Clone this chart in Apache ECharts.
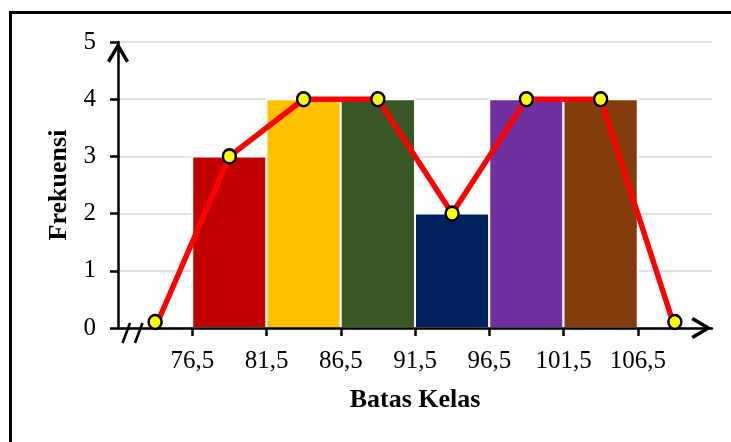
<!DOCTYPE html>
<html>
<head>
<meta charset="utf-8">
<script src="https://cdn.jsdelivr.net/npm/echarts@6/dist/echarts.min.js"></script>
<style>
  html, body { margin: 0; padding: 0; background: #ffffff; }
  #chart { width: 731px; height: 442px; }
</style>
</head>
<body>
<div id="chart"></div>
<script>
// Class boundaries and frequency of each class (histogram)
const classLower = [76.5, 81.5, 86.5, 91.5, 96.5, 101.5];
const classUpper = [81.5, 86.5, 91.5, 96.5, 101.5, 106.5];
const frequencies = [3, 4, 4, 2, 4, 4];

// Frequency polygon: class midpoints, with an empty class on each side
const midpoints = [74, 79, 84, 89, 94, 99, 104, 109];
const polygonFreq = [0, 3, 4, 4, 2, 4, 4, 0];

// Labelled positions on the horizontal axis
const boundaryTicks = [76.5, 81.5, 86.5, 91.5, 96.5, 101.5, 106.5];

const barColors = ['#C00000', '#FFC000', '#3A5726', '#002060', '#7030A0', '#843C0C'];
const serif = "'Liberation Serif', 'Times New Roman', serif";
// Open chevron used as the arrow head at the end of both axes
const chevron = 'path://M10.5,0 L21,17.6 L18.2,19.4 L10.5,6.4 L2.8,19.4 L0,17.6 Z';

const X_MIN = 71.5, X_MAX = 111.5;

const chart = echarts.init(document.getElementById('chart'), null, { renderer: 'canvas' });

chart.setOption({
  animation: false,
  backgroundColor: '#ffffff',
  grid: { left: 118, right: 19, top: 42, bottom: 114, containLabel: false },
  xAxis: {
    type: 'value',
    min: X_MIN,
    max: X_MAX,
    z: 4,
    name: 'Batas Kelas',
    nameLocation: 'middle',
    nameGap: 59,
    nameTextStyle: { fontFamily: serif, fontSize: 26, fontWeight: 'bold', color: '#000' },
    axisLine: {
      show: true,
      onZero: false,
      lineStyle: { color: '#000', width: 2.5 },
      symbol: ['none', chevron],
      symbolSize: [22, 21],
      symbolOffset: [0, -10.5]
    },
    axisTick: {
      show: true,
      customValues: boundaryTicks,
      length: 8,
      lineStyle: { color: '#000', width: 2.5 }
    },
    axisLabel: {
      customValues: boundaryTicks,
      margin: 21,
      fontFamily: serif,
      fontSize: 25,
      color: '#000',
      formatter: v => String(v).replace('.', ',')
    },
    splitLine: { show: false }
  },
  yAxis: {
    type: 'value',
    min: 0,
    max: 5,
    interval: 1,
    z: 0,
    name: 'Frekuensi',
    nameLocation: 'middle',
    nameGap: 43,
    nameTextStyle: { fontFamily: serif, fontSize: 26, fontWeight: 'bold', color: '#000' },
    axisLine: {
      show: true,
      lineStyle: { color: '#000', width: 2.5 },
      symbol: ['none', chevron],
      symbolSize: [22, 21],
      symbolOffset: [0, -10.5]
    },
    axisTick: { show: true, length: 8, lineStyle: { color: '#000', width: 2.5 } },
    axisLabel: { margin: 22, fontFamily: serif, fontSize: 25, color: '#000' },
    splitLine: { show: true, lineStyle: { color: '#d9d9d9', width: 1.5 } }
  },
  series: [
    {
      name: 'Histogram',
      type: 'custom',
      z: 2,
      data: frequencies.map((f, i) => [classLower[i], classUpper[i], f]),
      encode: { x: [0, 1], y: 2 },
      renderItem: function (params, api) {
        const base = api.coord([api.value(0), 0]);
        const top = api.coord([api.value(1), api.value(2)]);
        return {
          type: 'rect',
          shape: { x: base[0], y: top[1], width: top[0] - base[0], height: base[1] - top[1] },
          style: { fill: barColors[params.dataIndex], stroke: '#ffffff', lineWidth: 2 }
        };
      }
    },
    {
      name: 'Poligon',
      type: 'line',
      z: 6,
      data: midpoints.map((x, i) => {
        const item = { value: [x, polygonFreq[i]] };
        // the empty end classes sit their markers on top of the axis line
        if (polygonFreq[i] === 0) item.symbolOffset = [0, -6];
        return item;
      }),
      lineStyle: { color: '#FF0000', width: 5.5 },
      symbol: 'circle',
      symbolSize: [13, 14],
      itemStyle: { color: '#FFFF00', borderColor: '#000', borderWidth: 2.5 }
    }
  ]
});

// Outer frame and the axis-break marks "//" just right of the origin
const origin = chart.convertToPixel({ gridIndex: 0 }, [X_MIN, 0]);
const slash = (id, dx) => ({
  id: id,
  type: 'line',
  z: 20,
  silent: true,
  shape: { x1: origin[0] + dx + 4.5, y1: origin[1] + 15, x2: origin[0] + dx + 12, y2: origin[1] - 5 },
  style: { stroke: '#000', lineWidth: 2.5 }
});
chart.setOption({
  graphic: [
    {
      id: 'frame',
      type: 'rect',
      z: 20,
      silent: true,
      shape: { x: 10.5, y: 12.5, width: 760, height: 470 },
      style: { fill: null, stroke: '#000', lineWidth: 3 }
    },
    slash('breakA', 0),
    slash('breakB', 12.5)
  ]
});
</script>
</body>
</html>
